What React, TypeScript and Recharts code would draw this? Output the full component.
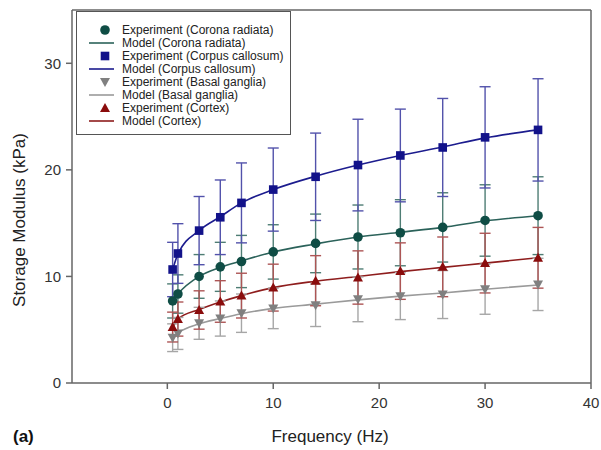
import {
  ComposedChart,
  Scatter,
  Line,
  XAxis,
  YAxis,
  ErrorBar,
  ReferenceLine,
} from "recharts";

const frequencies = [0.5, 1, 3, 5, 7, 10, 14, 18, 22, 26, 30, 35];

// Corona radiata
const crExp = [7.7, 8.35, 10.0, 10.9, 11.4, 12.3, 13.1, 13.7, 14.1, 14.6, 15.25, 15.7];
const crErr = [1.6, 1.8, 2.05, 2.3, 2.45, 2.55, 2.75, 3.0, 3.1, 3.25, 3.35, 3.65];
const crModel = [7.7, 8.35, 10.0, 10.85, 11.45, 12.3, 13.05, 13.7, 14.15, 14.6, 15.2, 15.7];

// Corpus callosum
const ccExp = [10.65, 12.15, 14.3, 15.55, 16.9, 18.15, 19.35, 20.45, 21.35, 22.1, 23.05, 23.75];
const ccErr = [2.55, 2.8, 3.2, 3.5, 3.75, 3.9, 4.1, 4.3, 4.35, 4.6, 4.75, 4.8];
const ccModel = [10.65, 12.1, 14.3, 15.6, 16.9, 18.15, 19.4, 20.45, 21.35, 22.15, 23.0, 23.75];

// Basal ganglia
const bgExp = [4.25, 4.65, 5.6, 6.05, 6.55, 7.0, 7.3, 7.85, 8.15, 8.3, 8.8, 9.25];
const bgErr = [1.3, 1.5, 1.5, 1.65, 1.8, 1.9, 2.0, 2.1, 2.2, 2.25, 2.35, 2.45];
const bgModel = [4.3, 4.7, 5.55, 6.05, 6.5, 7.0, 7.4, 7.8, 8.15, 8.45, 8.8, 9.2];

// Cortex
const cxExp = [5.25, 6.0, 6.85, 7.65, 8.2, 8.95, 9.6, 9.9, 10.5, 10.9, 11.25, 11.75];
const cxErr = [1.4, 1.6, 1.8, 1.95, 2.1, 2.2, 2.35, 2.5, 2.65, 2.8, 2.8, 2.85];
const cxModel = [5.2, 6.0, 6.9, 7.6, 8.2, 8.95, 9.55, 10.0, 10.45, 10.85, 11.25, 11.75];

const xTicks = [0, 10, 20, 30, 40];
const yTicks = [0, 10, 20, 30];

const rows = frequencies.map((freq, i) => ({
  freq,
  crExp: crExp[i],
  crErr: crErr[i],
  crModel: crModel[i],
  ccExp: ccExp[i],
  ccErr: ccErr[i],
  ccModel: ccModel[i],
  bgExp: bgExp[i],
  bgErr: bgErr[i],
  bgModel: bgModel[i],
  cxExp: cxExp[i],
  cxErr: cxErr[i],
  cxModel: cxModel[i],
}));

const FONT = '"Liberation Sans", Arial, sans-serif';
const AXIS = "#666";

type Kind = "circle" | "square" | "down" | "up";

function Marker({ kind, cx, cy, fill }: { kind: Kind; cx: number; cy: number; fill: string }) {
  if (kind === "circle") return <circle cx={cx} cy={cy} r={4.8} fill={fill} />;
  if (kind === "square") return <rect x={cx - 4.3} y={cy - 4.3} width={8.6} height={8.6} fill={fill} />;
  if (kind === "up")
    return <polygon points={`${cx},${cy - 5} ${cx - 5},${cy + 4} ${cx + 5},${cy + 4}`} fill={fill} />;
  return <polygon points={`${cx},${cy + 5} ${cx - 5},${cy - 4} ${cx + 5},${cy - 4}`} fill={fill} />;
}

const series = [
  { key: "cr", name: "Corona radiata", kind: "circle" as Kind, color: "#0f4d45", line: "#2b625a", err: "#4e7d74" },
  { key: "cc", name: "Corpus callosum", kind: "square" as Kind, color: "#12128a", line: "#1c1c8e", err: "#5252ab" },
  { key: "bg", name: "Basal ganglia", kind: "down" as Kind, color: "#808080", line: "#9a9a9a", err: "#a6a6a6" },
  { key: "cx", name: "Cortex", kind: "up" as Kind, color: "#8a0c0c", line: "#8e1d1d", err: "#ad5555" },
];

function LegendBox() {
  const items: { label: string; kind: Kind | "line"; color: string }[] = [];
  series.forEach((s) => {
    items.push({ label: `Experiment (${s.name})`, kind: s.kind, color: s.color });
    items.push({ label: `Model (${s.name})`, kind: "line", color: s.line });
  });
  return (
    <div
      style={{
        position: "absolute",
        left: 76,
        top: 11,
        width: 215,
        height: 124,
        border: "1px solid #555",
        background: "#fff",
        boxSizing: "border-box",
        paddingTop: 11,
        fontFamily: FONT,
        fontSize: 12,
        color: "#222",
      }}
    >
      {items.map((it) => (
        <div key={it.label} style={{ display: "flex", alignItems: "center", height: 13.1 }}>
          <svg width={44} height={12} style={{ marginLeft: 11 }}>
            {it.kind === "line" ? (
              <line x1={1} x2={26} y1={6} y2={6} stroke={it.color} strokeWidth={1.6} />
            ) : (
              <Marker kind={it.kind} cx={17} cy={6} fill={it.color} />
            )}
          </svg>
          <span style={{ marginLeft: -10, whiteSpace: "nowrap" }}>{it.label}</span>
        </div>
      ))}
    </div>
  );
}

export default function App() {
  return (
    <div style={{ position: "absolute", left: 0, top: 0, width: 601, height: 450, background: "#fff" }}>
      <ComposedChart
        width={601}
        height={450}
        data={rows}
        margin={{ top: 10, right: 10, bottom: 0, left: 0 }}
        style={{ fontFamily: FONT }}
      >
        <XAxis
          type="number"
          dataKey="freq"
          domain={[-9, 40]}
          ticks={xTicks}
          height={67}
          tickSize={6}
          tickMargin={8}
          stroke={AXIS}
          strokeWidth={1.5}
          tick={{ fill: "#333", fontSize: 15 }}
        />
        <YAxis
          type="number"
          domain={[0, 35]}
          ticks={yTicks}
          width={72}
          tickSize={6}
          tickMargin={5}
          stroke={AXIS}
          strokeWidth={1.5}
          tick={{ fill: "#333", fontSize: 15 }}
        />
        <ReferenceLine y={35} stroke={AXIS} strokeWidth={1.5} />
        <ReferenceLine x={40} stroke={AXIS} strokeWidth={1.5} />
        {series.map((s) => (
          <Line
            key={s.key + "Model"}
            dataKey={s.key + "Model"}
            type="monotone"
            stroke={s.line}
            strokeWidth={1.6}
            dot={false}
            isAnimationActive={false}
          />
        ))}
        {series.map((s) => (
          <Scatter
            key={s.key + "Exp"}
            dataKey={s.key + "Exp"}
            fill={s.color}
            isAnimationActive={false}
            shape={(p: any) => <Marker kind={s.kind} cx={p.cx} cy={p.cy} fill={s.color} />}
          >
            <ErrorBar
              dataKey={s.key + "Err"}
              direction="y"
              width={5.5}
              stroke={s.err}
              strokeWidth={1.4}
              isAnimationActive={false}
            />
          </Scatter>
        ))}
      </ComposedChart>
      <LegendBox />
      <div
        style={{
          position: "absolute",
          left: 20,
          top: 220,
          transform: "translate(-50%, -50%) rotate(-90deg)",
          whiteSpace: "nowrap",
          fontFamily: FONT,
          fontSize: 17,
          color: "#222",
        }}
      >
        Storage Modulus (kPa)
      </div>
      <div
        style={{
          position: "absolute",
          left: 330,
          top: 437,
          transform: "translate(-50%, -50%)",
          whiteSpace: "nowrap",
          fontFamily: FONT,
          fontSize: 17,
          color: "#222",
        }}
      >
        Frequency (Hz)
      </div>
      <div
        style={{
          position: "absolute",
          left: 13,
          top: 437,
          transform: "translateY(-50%)",
          fontFamily: FONT,
          fontSize: 17,
          fontWeight: "bold",
          color: "#111",
        }}
      >
        (a)
      </div>
    </div>
  );
}
